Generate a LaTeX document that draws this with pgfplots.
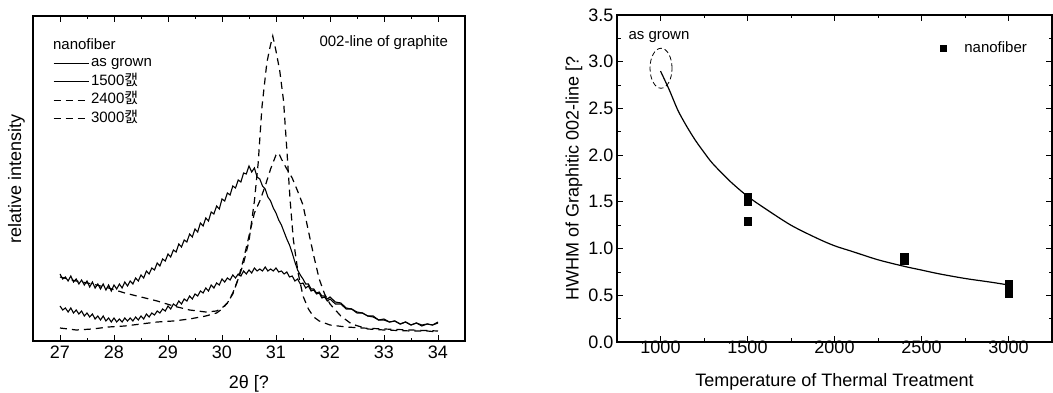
\documentclass[border=0pt]{standalone}
\usepackage{fontspec}
\setmainfont{Liberation Sans}
\newfontfamily\kr{Noto Sans CJK KR}
\usepackage{pgfplots}
\pgfplotsset{compat=1.18}
\begin{document}
\begin{tikzpicture}
\path[use as bounding box] (0pt,0pt) rectangle (1053pt,393pt);
% ---------------- left: XRD spectra ----------------
\begin{axis}[
  at={(33pt,52pt)}, anchor=south west,
  scale only axis, width=432pt, height=325pt,
  xmin=26.5, xmax=34.5, ymin=0, ymax=325,
  xtick={27,28,29,30,31,32,33,34}, minor x tick num=1,
  ytick=\empty, minor ytick={41,64,87,110,133,156,179,202,225,248,271,294},
  tick align=inside, major tick length=6pt, minor tick length=3pt,
  axis line style={line width=1.1pt},
  every tick/.style={black, line width=0.8pt},
  tick label style={font=\fontsize{18}{20}\selectfont},
  /pgf/number format/assume math mode=true,
  xticklabel style={yshift=-1.5pt},
  xlabel={2θ [?}, ylabel={relative intensity},
  label style={font=\fontsize{18}{20}\selectfont},
  xlabel style={at={(axis description cs:0.5,-0.1323)}, anchor=center},
  ylabel style={at={(axis description cs:-0.0382,0.5)}, anchor=center},
  legend style={at={(rel axis cs:0.046,0.884)}, anchor=north west, draw=none, fill=none,
    inner sep=0pt, font=\fontsize{15}{17}\selectfont,
    nodes={inner sep=1.75pt, text height=11pt, text depth=4pt}},
  legend cell align=left,
  legend image code/.code={\draw[#1] (0pt,0pt) -- (35pt,0pt);},
]
% as grown
\addplot[black, line width=1.1pt] coordinates {
(27.0,67)(27.05,62)(27.1,64)(27.15,60)(27.2,65)(27.25,59)(27.3,62)(27.35,57)(27.4,61)(27.45,56)
(27.5,60)(27.55,54)(27.6,59)(27.65,53)(27.7,57)(27.75,52)(27.8,57)(27.85,51)(27.9,56)(27.95,50)
(28.0,56)(28.05,52)(28.1,57)(28.15,53)(28.2,59)(28.25,55)(28.3,60)(28.35,57)(28.4,63)(28.45,60)
(28.5,66)(28.55,63)(28.6,70)(28.65,67)(28.7,73)(28.75,71)(28.8,78)(28.85,75)(28.9,82)(28.95,80)
(29.0,87)(29.05,84)(29.1,91)(29.15,89)(29.2,97)(29.25,94)(29.3,101)(29.35,99)(29.4,107)(29.45,104)
(29.5,112)(29.55,109)(29.6,118)(29.65,115)(29.7,123)(29.75,120)(29.8,129)(29.85,127)(29.9,135)(29.95,132)
(30.0,142)(30.05,140)(30.1,148)(30.15,146)(30.2,155)(30.25,153)(30.3,161)(30.35,159)(30.4,168)(30.45,167)
(30.5,175)(30.55,169)(30.6,173)(30.65,164)(30.7,162)(30.75,155)(30.8,152)(30.85,144)(30.9,140)(30.95,133)
(31.0,128)(31.05,121)(31.1,116)(31.15,109)(31.2,102)(31.25,96)(31.3,88)(31.35,79)(31.4,71)(31.45,66)
(31.5,62)(31.55,57)(31.6,57)(31.65,52)(31.7,52)(31.75,48)(31.8,49)(31.85,45)(31.9,45)(31.95,42)
(32.0,44)(32.1,39)(32.2,38)(32.3,33)(32.4,32)(32.5,29)(32.6,28)(32.7,25)(32.8,24)
(32.9,21)(33.0,21)(33.1,19)(33.2,20)(33.3,17)(33.4,19)(33.5,16)(33.6,18)(33.7,15)(33.8,17)
(33.9,16)(34.0,19)};
\addlegendentry{as grown}
% 1500
\addplot[black, line width=1.1pt] coordinates {
(27.0,35)(27.05,31)(27.1,33)(27.15,29)(27.2,33)(27.25,28)(27.3,31)(27.35,27)(27.4,30)(27.45,25)
(27.5,28)(27.55,24)(27.6,27)(27.65,22)(27.7,25)(27.75,21)(27.8,25)(27.85,20)(27.9,23)(27.95,19)
(28.0,23)(28.05,19)(28.1,22)(28.15,19)(28.2,23)(28.25,20)(28.3,23)(28.35,20)(28.4,24)(28.45,21)
(28.5,25)(28.55,22)(28.6,27)(28.65,24)(28.7,28)(28.75,26)(28.8,30)(28.85,28)(28.9,32)(28.95,30)
(29.0,35)(29.05,32)(29.1,37)(29.15,35)(29.2,40)(29.25,37)(29.3,42)(29.35,40)(29.4,45)(29.45,42)
(29.5,47)(29.55,45)(29.6,50)(29.65,48)(29.7,53)(29.75,50)(29.8,56)(29.85,53)(29.9,58)(29.95,56)
(30.0,62)(30.05,59)(30.1,63)(30.15,61)(30.2,66)(30.25,63)(30.3,67)(30.35,65)(30.4,70)(30.45,67)
(30.5,71)(30.55,68)(30.6,73)(30.65,70)(30.7,72)(30.75,70)(30.8,74)(30.85,70)(30.9,72)(30.95,70)
(31.0,73)(31.05,69)(31.1,70)(31.15,67)(31.2,69)(31.25,64)(31.3,65)(31.35,60)(31.4,62)(31.45,57)
(31.5,58)(31.55,53)(31.6,55)(31.65,50)(31.7,51)(31.75,47)(31.8,48)(31.85,43)(31.9,44)(31.95,40)
(32.0,42)(32.1,37)(32.2,37)(32.3,32)(32.4,32)(32.5,28)(32.6,28)(32.7,25)(32.8,25)(32.9,21)
(33.0,22)(33.1,19)(33.2,20)(33.3,17)(33.4,19)(33.5,16)(33.6,18)(33.7,16)(33.8,17)(33.9,16)
(34.0,18)};
\addlegendentry{1500{\kr 캜}}
% 2400
\addplot[black, line width=1.2pt, dash pattern=on 7pt off 5pt] coordinates {
(27.0,64)(27.3,60)(27.6,57)(27.9,53)(28.2,48)(28.5,44)(28.8,40)(29.1,35)(29.4,31)(29.7,29)
(29.9,30)(30.0,33)(30.1,38)(30.2,47)(30.3,62)(30.4,82)(30.5,105)(30.6,128)(30.7,140)(30.8,155)
(30.9,172)(31.0,186)(31.05,188)(31.1,182)(31.2,172)(31.3,163)(31.4,150)(31.5,136)(31.6,110)(31.7,85)
(31.8,62)(31.9,47)(32.0,37)(32.2,25)(32.4,17)(32.7,12)(33.0,11)(33.5,10)(33.8,10)(34.0,9)};
\addlegendentry{2400{\kr 캜}}
% 3000
\addplot[black, line width=1.2pt, dash pattern=on 7pt off 5pt] coordinates {
(27.0,13)(27.3,11)(27.6,12)(27.9,14)(28.2,15)(28.5,17)(28.8,19)(29.1,20)(29.4,22)(29.7,25)
(29.9,28)(30.0,32)(30.1,38)(30.2,48)(30.3,62)(30.4,78)(30.5,100)(30.6,140)(30.67,178)(30.74,234)
(30.83,278)(30.89,294)(30.94,305)(31.0,290)(31.07,270)(31.14,240)(31.2,192)(31.26,142)(31.32,102)(31.41,68)
(31.5,45)(31.6,32)(31.7,24)(31.8,20)(32.0,16)(32.3,14)(32.6,13)(33.0,12)(33.5,11)(34.0,10)};
\addlegendentry{3000{\kr 캜}}
\node[anchor=west, font=\fontsize{15}{17}\selectfont, inner sep=0pt] at (rel axis cs:0.046,0.914) {nanofiber};
\node[anchor=east, font=\fontsize{15}{17}\selectfont, inner sep=0pt] at (rel axis cs:0.961,0.917) {002-line of graphite};
\end{axis}
% ---------------- right: HWHM vs temperature ----------------
\begin{axis}[
  at={(617pt,51pt)}, anchor=south west,
  scale only axis, width=435pt, height=327pt,
  xmin=750, xmax=3250, ymin=0, ymax=3.5,
  xtick={1000,1500,2000,2500,3000}, minor x tick num=1,
  ytick={0,0.5,1,1.5,2,2.5,3,3.5}, minor y tick num=1,
  tick align=inside, major tick length=6pt, minor tick length=3.5pt,
  axis line style={line width=1.1pt},
  every tick/.style={black, line width=0.8pt},
  tick label style={font=\fontsize{18}{20}\selectfont},
  /pgf/number format/assume math mode=true,
  xticklabel style={/pgf/number format/1000 sep={}, yshift=5pt},
  yticklabel style={/pgf/number format/.cd, fixed, fixed zerofill, precision=1},
  xlabel={Temperature of Thermal Treatment}, ylabel={HWHM of Graphitic 002-line [?},
  label style={font=\fontsize{18}{20}\selectfont},
  xlabel style={at={(axis description cs:0.5,-0.1223)}, anchor=center},
  ylabel style={at={(axis description cs:-0.0989,0.5)}, anchor=center},
  legend style={at={(rel axis cs:0.7425,0.899)}, anchor=west, draw=none, fill=none,
    inner sep=0pt, font=\fontsize{15}{17}\selectfont, nodes={inner sep=1.75pt}},
  legend image code/.code={\draw[#1, mark size=3pt] plot coordinates {(0pt,0pt)}; \path (-3pt,0pt) (19pt,0pt);},
]
\addplot[black, line width=1.2pt, smooth, forget plot] coordinates {
(1000,2.90)(1050,2.70)(1100,2.48)(1150,2.31)(1200,2.16)(1250,2.03)(1300,1.91)(1400,1.72)
(1500,1.56)(1600,1.43)(1750,1.25)(1900,1.11)(2000,1.03)(2100,0.97)(2250,0.88)(2400,0.81)
(2500,0.77)(2600,0.73)(2750,0.68)(2900,0.64)(3000,0.61)};
\addplot[black, only marks, mark=square*, mark size=3.8pt] coordinates {
(1500,1.55)(1500,1.51)(1500,1.29)(2400,0.91)(2400,0.87)(3000,0.62)(3000,0.52)};
\addlegendentry{nanofiber}
\draw[black, line width=0.8pt, dash pattern=on 5pt off 3pt] (axis cs:1003,2.93) ellipse [x radius=11pt, y radius=20pt];
\node[font=\fontsize{15}{17}\selectfont, inner sep=0pt] at (axis cs:991,3.265) {as grown};
\end{axis}
\end{tikzpicture}
\end{document}
